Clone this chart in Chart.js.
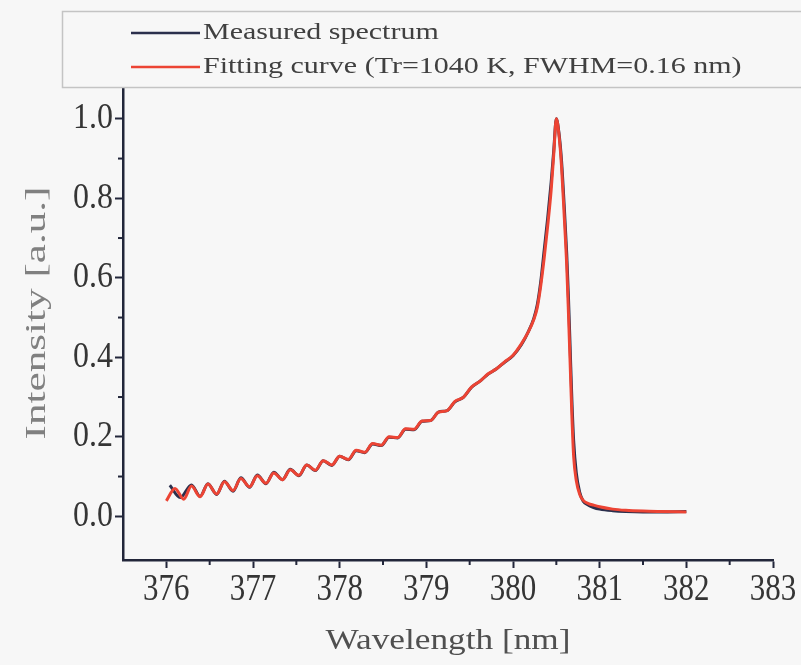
<!DOCTYPE html>
<html><head><meta charset="utf-8">
<script src="https://cdn.jsdelivr.net/npm/chart.js@4/dist/chart.umd.min.js"></script>
<style>html,body{margin:0;padding:0;background:#f7f7f7;}canvas{display:block;}</style>
</head><body>
<canvas id="c" width="801" height="665"></canvas>
<script>
// ---- data ----
const fitWavelength = [
 376.00,376.10,376.20,376.29,376.39,376.48,376.58,376.67,376.77,376.86,
 376.96,377.05,377.15,377.24,377.34,377.43,377.53,377.62,377.72,377.81,
 377.91,378.00,378.10,378.19,378.29,378.38,378.48,378.57,378.67,378.76,
 378.86,378.95,379.05,379.14,379.24,379.33,379.43,379.52,379.62,379.71,
 379.81,379.90,380.00,380.10,380.18,380.24,380.28,380.32,380.36,380.40,
 380.44,380.47,380.50,380.53,380.56,380.59,380.62,380.64,380.66,380.68,
 380.70,380.73,380.77,380.81,380.87,380.93,381.00,381.15,381.30,381.50,
 381.70,382.00];
const fitIntensity = [
 0.039,0.070,0.043,0.076,0.049,0.081,0.056,0.087,0.065,0.095,
 0.074,0.102,0.083,0.109,0.092,0.117,0.103,0.129,0.116,0.140,
 0.129,0.151,0.143,0.166,0.161,0.183,0.179,0.200,0.198,0.220,
 0.219,0.240,0.241,0.262,0.266,0.289,0.300,0.325,0.340,0.358,
 0.371,0.388,0.405,0.435,0.465,0.495,0.525,0.580,0.650,0.730,
 0.820,0.910,1.000,0.960,0.880,0.760,0.630,0.510,0.380,0.250,
 0.150,0.090,0.055,0.040,0.032,0.028,0.024,0.018,0.015,0.013,
 0.012,0.011];
const measuredWavelength = [
 376.04,376.16,376.29,376.39,376.48,376.58,376.67,376.77,376.86,
 376.96,377.05,377.15,377.24,377.34,377.43,377.53,377.62,377.72,377.81,
 377.91,378.00,378.10,378.19,378.29,378.38,378.48,378.57,378.67,378.76,
 378.86,378.95,379.05,379.14,379.24,379.33,379.43,379.52,379.62,379.71,
 379.81,379.90,380.00,380.10,380.18,380.24,380.28,380.32,380.36,380.40,
 380.44,380.47,380.50,380.53,380.56,380.59,380.62,380.64,380.66,380.68,
 380.70,380.73,380.77,380.81,380.87,380.93,381.00,381.15,381.30,381.50,
 381.70,382.00];
const measuredIntensity = [
 0.078,0.047,0.079,0.050,0.082,0.055,0.088,0.063,0.097,
 0.073,0.104,0.082,0.111,0.092,0.118,0.102,0.129,0.115,0.140,
 0.128,0.151,0.142,0.165,0.160,0.182,0.178,0.199,0.197,0.219,
 0.218,0.239,0.241,0.262,0.266,0.288,0.300,0.324,0.340,0.357,
 0.371,0.387,0.404,0.433,0.466,0.498,0.532,0.590,0.670,0.750,
 0.840,0.920,1.000,0.965,0.895,0.785,0.660,0.550,0.420,0.290,
 0.190,0.110,0.060,0.038,0.028,0.022,0.018,0.014,0.012,0.011,
 0.011,0.012];
const seriesNames = ['Measured spectrum', 'Fitting curve (Tr=1040 K, FWHM=0.16 nm)'];
const xTicks = [376, 377, 378, 379, 380, 381, 382, 383];
const xMinorTicks = [376.5, 377.5, 378.5, 379.5, 380.5, 381.5, 382.5];
const yTicks = [0.0, 0.2, 0.4, 0.6, 0.8, 1.0];
const yMinorTicks = [0.1, 0.3, 0.5, 0.7, 0.9];
const xTitle = 'Wavelength [nm]';
const yTitle = 'Intensity [a.u.]';

// ---- styling ----
const AXIS = '#22263a';
const SERIF = "'Liberation Serif', 'DejaVu Serif', serif";

function drawText(ctx, text, x, y, o) {
  ctx.save();
  ctx.translate(x, y);
  if (o.rotate) ctx.rotate(o.rotate);
  ctx.font = o.font;
  ctx.fillStyle = o.color;
  ctx.textAlign = o.align || 'center';
  ctx.textBaseline = 'middle';
  let sx = o.sx || 1;
  if (o.fitWidth) sx = o.fitWidth / ctx.measureText(text).width;
  ctx.scale(sx, o.sy || 1);
  ctx.fillText(text, 0, 0);
  ctx.restore();
}

const bgPlugin = {
  id: 'bg',
  beforeDraw(chart) {
    const {ctx, width, height} = chart;
    ctx.save(); ctx.fillStyle = '#f7f7f7'; ctx.fillRect(0, 0, width, height); ctx.restore();
  }
};

const axisDecorPlugin = {
  id: 'axisDecor',
  afterDraw(chart) {
    const {ctx, scales: {x, y}, chartArea} = chart;
    ctx.save();
    ctx.strokeStyle = AXIS; ctx.lineWidth = 2;
    xMinorTicks.forEach(v => {
      const px = x.getPixelForValue(v);
      ctx.beginPath(); ctx.moveTo(px, x.top); ctx.lineTo(px, x.top + 5); ctx.stroke();
    });
    yMinorTicks.forEach(v => {
      const py = y.getPixelForValue(v);
      ctx.beginPath(); ctx.moveTo(y.right, py); ctx.lineTo(y.right - 5, py); ctx.stroke();
    });
    ctx.restore();
    xTicks.forEach(v => drawText(ctx, String(v), x.getPixelForValue(v), x.top + 30,
      {font: '31px ' + SERIF, color: '#353535', sy: 1.2}));
    yTicks.forEach(v => drawText(ctx, v.toFixed(1), y.right - 10, y.getPixelForValue(v),
      {font: '32px ' + SERIF, color: '#353535', sy: 1.15, align: 'right'}));
    drawText(ctx, xTitle, (chartArea.left + chartArea.right) / 2, 641,
      {font: '30px ' + SERIF, color: '#505050', fitWidth: 245});
    drawText(ctx, yTitle, 37, 313,
      {font: '30px ' + SERIF, color: '#808080', fitWidth: 253, rotate: -Math.PI / 2});
  }
};

const legendPlugin = {
  id: 'boxLegend',
  afterDraw(chart) {
    const {ctx} = chart;
    ctx.save();
    ctx.fillStyle = '#f7f7f7';
    ctx.fillRect(62, 11, 760, 77);
    ctx.strokeStyle = '#c4c4c4'; ctx.lineWidth = 1.5;
    ctx.strokeRect(62.5, 11.5, 760, 76);
    const rows = [33, 67];
    chart.data.datasets.forEach((ds, i) => {
      const yy = rows[i];
      ctx.strokeStyle = ds.borderColor; ctx.lineWidth = 2.5;
      ctx.beginPath(); ctx.moveTo(131, yy); ctx.lineTo(200, yy); ctx.stroke();
      drawText(ctx, ds.label, 203, yy, {font: '24px ' + SERIF, color: '#404040', align: 'left', sx: 1.25});
    });
    ctx.restore();
  }
};

new Chart(document.getElementById('c'), {
  type: 'line',
  data: {
    datasets: [
      {
        label: seriesNames[0],
        data: measuredWavelength.map((w, i) => ({x: w, y: measuredIntensity[i]})),
        borderColor: '#2b2f4c', borderWidth: 3, pointRadius: 0,
        cubicInterpolationMode: 'monotone', order: 1
      },
      {
        label: seriesNames[1],
        data: fitWavelength.map((w, i) => ({x: w, y: fitIntensity[i]})),
        borderColor: '#ec4434', borderWidth: 3, pointRadius: 0,
        cubicInterpolationMode: 'monotone', order: 0
      }
    ]
  },
  options: {
    responsive: false,
    animation: false,
    devicePixelRatio: 1,
    layout: {padding: {top: 87, right: 28, left: 0, bottom: 0}},
    plugins: {legend: {display: false}, tooltip: {enabled: false}},
    scales: {
      x: {
        type: 'linear', min: 375.5, max: 383,
        afterBuildTicks: s => { s.ticks = xTicks.map(v => ({value: v})); },
        afterFit: s => { s.height = 105; },
        grid: {drawOnChartArea: false, drawTicks: true, tickLength: 8, tickWidth: 2, tickColor: AXIS},
        border: {display: true, color: AXIS, width: 2.5},
        ticks: {display: false},
        title: {display: false}
      },
      y: {
        type: 'linear', min: -0.11, max: 1.08,
        afterBuildTicks: s => { s.ticks = yTicks.map(v => ({value: v})); },
        afterFit: s => { s.width = 123; },
        grid: {drawOnChartArea: false, drawTicks: true, tickLength: 8, tickWidth: 2, tickColor: AXIS},
        border: {display: true, color: AXIS, width: 2.5},
        ticks: {display: false},
        title: {display: false}
      }
    }
  },
  plugins: [bgPlugin, axisDecorPlugin, legendPlugin]
});
</script>
</body></html>
